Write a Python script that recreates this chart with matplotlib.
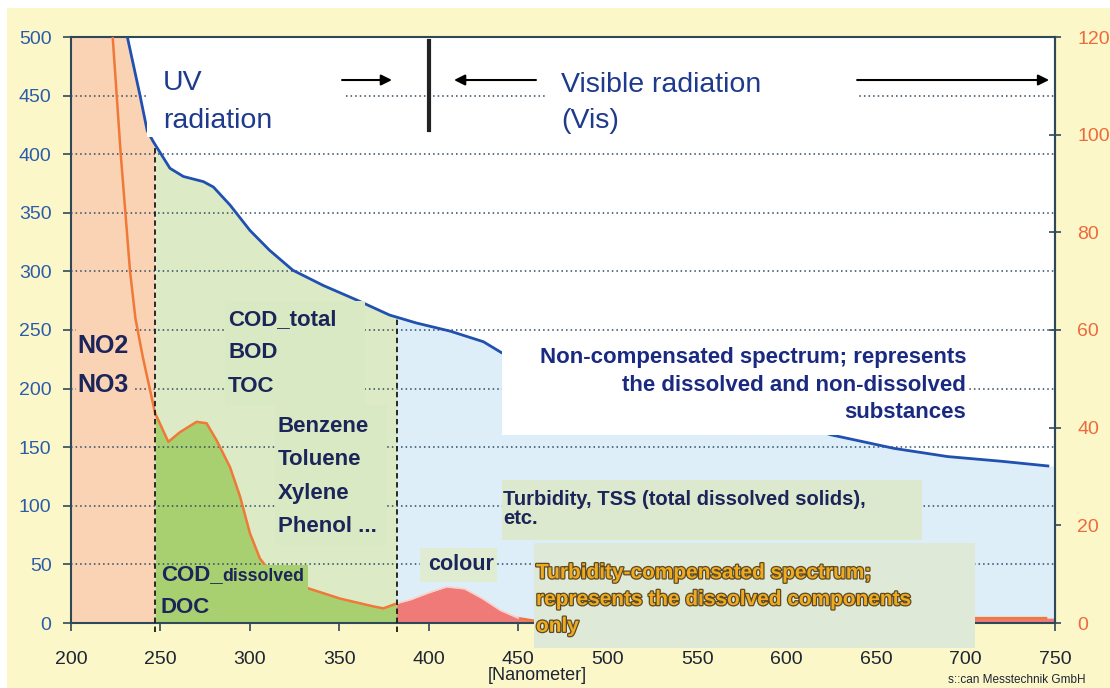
import numpy as np
import matplotlib.pyplot as plt
import matplotlib.patheffects as pe
from matplotlib.patches import Rectangle

plt.rcParams['font.family'] = ['Liberation Sans', 'DejaVu Sans']

# non-compensated spectrum (left axis)
blue_nm = [200, 215, 225, 231.5, 238.6, 242.6, 246, 255.3, 262.8, 274, 279.6, 288.9, 300,
           311, 324, 341, 359.7, 378, 393, 412, 430.5, 440.7, 460, 500, 550, 600, 625,
           660, 690, 720, 746]
blue_abs = [760, 640, 560, 500, 450, 420, 410.7, 388, 381, 376.6, 372, 356.6, 335,
            318, 301, 288, 275.6, 262.8, 256, 249, 240, 230.6, 222, 207, 190, 172, 160.5,
            149, 142, 138, 134]

# turbidity-compensated spectrum (right axis)
orange_nm = [221, 223.3, 227.8, 233, 236, 240, 244, 247, 254.4, 261, 270.2, 275.8, 281.4,
             288.9, 294.5, 300, 305.6, 308.4, 320, 332.6, 350.4, 369, 374.6, 382, 390, 400,
             410, 420, 430, 440, 450, 460, 480, 520, 600, 700, 745]
orange_abs = [130.8, 120, 96, 72, 62.4, 54.7, 48, 43, 37.1, 39.1, 41.2, 40.9, 37.4,
              31.9, 25.9, 18.4, 13.2, 11.9, 9.1, 7.1, 5.0, 3.4, 3.0, 4.0, 4.8, 6.2,
              7.4, 7.0, 5.0, 2.6, 1.0, 0.4, 0.2, 0.25, 0.6, 1.0, 1.0]

region_edges = [247, 382]          # UV nitrate | organics | visible
x_ticks = list(range(200, 751, 50))
left_ticks = list(range(0, 501, 50))
right_ticks = list(range(0, 121, 20))

yellow = '#FBF7C8'
salmon = '#FAD2B4'
lgreen = '#DCEBC6'
dgreen = '#A8D071'
lblue = '#DDEEF8'
pink = '#F07A78'
navy = '#1B2559'
spine_col = '#2F4858'

fig = plt.figure(figsize=(11.1, 6.88), dpi=100)
fig.add_artist(Rectangle((7 / 1110, 0), 1, 1 - 8 / 688, transform=fig.transFigure,
                         facecolor=yellow, edgecolor='none', zorder=-1))
ax = fig.add_axes([71 / 1110, 65 / 688, 984 / 1110, 586 / 688])
ax.set_facecolor('white')

to_left = 500 / 120
orange_left = np.array(orange_abs) * to_left

g = np.linspace(200, 750, 2201)
blue_g = np.interp(g, blue_nm, blue_abs)
orange_g = np.interp(g, orange_nm, orange_left)
e1, e2 = region_edges

ax.fill_between(g, 0, blue_g, where=g <= e1, color=salmon, lw=0, zorder=1)
ax.fill_between(g, 0, blue_g, where=(g >= e1) & (g <= e2), color=lgreen, lw=0, zorder=1)
ax.fill_between(g, 0, blue_g, where=g >= e2, color=lblue, lw=0, zorder=1)
ax.fill_between(g, 0, orange_g, where=(g >= e1) & (g <= e2), color=dgreen, lw=0, zorder=1.1)
ax.fill_between(g, 0, orange_g, where=g >= e2, color=pink, lw=0, zorder=1.1)

ax.plot(blue_nm, blue_abs, color='#2050B0', lw=2, zorder=3)
onm = np.array(orange_nm)
hump = (onm > e2) & (onm < 450)
ax.plot(onm, np.where(hump, np.nan, orange_left), color='#F07838', lw=1.8, zorder=3)
ax.plot(onm[(onm >= e2) & (onm <= 450)], orange_left[(onm >= e2) & (onm <= 450)],
        color='#FBD0C8', lw=1.2, zorder=3)

for e in region_edges:
    top = np.interp(e, blue_nm, blue_abs)
    ax.plot([e, e], [-8, top], color='#1A1A1A', lw=1.3, ls=(0, (3, 2)), zorder=3,
            clip_on=False)

ax.set_xlim(200, 750)
ax.set_ylim(0, 500)
ax.set_xticks(x_ticks)
ax.set_yticks(left_ticks)
ax.set_axisbelow(False)
ax.yaxis.grid(True, color='#2C4A63', lw=1.1, ls=(0, (1, 2)))
for s in ax.spines.values():
    s.set_color(spine_col)
    s.set_linewidth(1.5)
ax.tick_params(axis='y', direction='out', length=6, width=1.2, color=spine_col,
               labelcolor='#2B5CAB', labelsize=14, pad=8)
ax.tick_params(axis='x', direction='out', length=6, width=1.2, color=spine_col,
               labelcolor='#1E2533', labelsize=14, pad=14)

sec = ax.secondary_yaxis('right', functions=(lambda v: v / to_left, lambda v: v * to_left))
sec.set_yticks(right_ticks)
sec.spines['right'].set_color(spine_col)
sec.spines['right'].set_linewidth(1.5)
sec.tick_params(direction='inout', length=8, width=1.2, color=spine_col,
                labelcolor='#EE6A3C', labelsize=14, pad=12)


def box(x0, x1, y0, y1, color, z=4, clip=True):
    ax.add_patch(Rectangle((x0, y0), x1 - x0, y1 - y0, facecolor=color, edgecolor='none',
                           zorder=z, clip_on=clip))


def rows(x, y0, step, texts, **kw):
    for i, s in enumerate(texts):
        ax.text(x, y0 - i * step, s, va='baseline', zorder=7, **kw)


box(203, 236, 185, 256, salmon, z=2.6)
box(242.6, 352, 415, 482, 'white')
box(465, 640.5, 415, 482, 'white')
box(286, 364.3, 186, 275, '#D9E9C3')
box(314, 376.6, 66.5, 186, '#D9E9C3')
box(248.6, 332.5, 2, 49.5, dgreen)
box(395, 438, 35, 64, '#DFECD2')
box(441, 701, 160.4, 240, 'white')
box(441, 675.7, 71, 122, '#DCE9CF')
box(458.8, 705.3, -21, 68, '#DEE9D7', z=6, clip=False)

bold = dict(color=navy, fontweight='bold')
rows(251.4, 454.8, 32.4, ['UV', 'radiation'], color='#1E3A8C', fontsize=20.5)
rows(473.9, 453, 30.6, ['Visible radiation', '(Vis)'], color='#1E3A8C', fontsize=20.5)
rows(203.4, 230, 33, ['NO2', 'NO3'], fontsize=18, **bold)
rows(287.8, 254.3, 28.6, ['COD_total', 'BOD', 'TOC'], fontsize=16, **bold)
rows(315.7, 163, 28.5, ['Benzene', 'Toluene', 'Xylene', 'Phenol ...'], fontsize=16, **bold)
t = ax.text(250.3, 36.7, 'COD_', va='baseline', fontsize=16, zorder=7, **bold)
ax.annotate('dissolved', xy=(1, 0), xycoords=t, va='bottom', ha='left', fontsize=12.8,
            zorder=7, **bold)
rows(250.3, 8.5, 28, ['DOC'], fontsize=16, **bold)
rows(399.6, 45.2, 28, ['colour'], fontsize=15.5, **bold)
rows(700.3, 221.8, 23.5, ['Non-compensated spectrum; represents',
                          'the dissolved and non-dissolved', 'substances'],
     ha='right', fontsize=16, color='#1A2A80', fontweight='bold')
rows(441.5, 100.7, 16.2, ['Turbidity, TSS (total dissolved solids),', 'etc.'],
     fontsize=14.5, **bold)
rows(459.9, 38.1, 22.8, ['Turbidity-compensated spectrum;',
                         'represents the dissolved components', 'only'],
     fontsize=15, color='#F0AA1E', fontweight='bold', clip_on=False,
     path_effects=[pe.withStroke(linewidth=1.8, foreground='#5B4A28')])

arrow = dict(arrowstyle='-|>', color='black', lw=1.5, mutation_scale=16, shrinkA=0, shrinkB=0)
ax.annotate('', xy=(379.4, 463.3), xytext=(351.5, 463.3), arrowprops=arrow, zorder=7)
ax.annotate('', xy=(414.1, 463.3), xytext=(459.9, 463.3), arrowprops=arrow, zorder=7)
ax.annotate('', xy=(746.7, 463.3), xytext=(639.4, 463.3), arrowprops=arrow, zorder=7)
ax.plot([400, 400], [421, 497], color='#222222', lw=3, zorder=7)

fig.text(537 / 1110, 12 / 688, '[Nanometer]', ha='center', va='center', fontsize=13,
         color='#1E2533')
fig.text(1017 / 1110, 8 / 688, 's::can Messtechnik GmbH', ha='center', va='center',
         fontsize=8.5, color='#1E2533')

fig.savefig('out.png', dpi=100)
